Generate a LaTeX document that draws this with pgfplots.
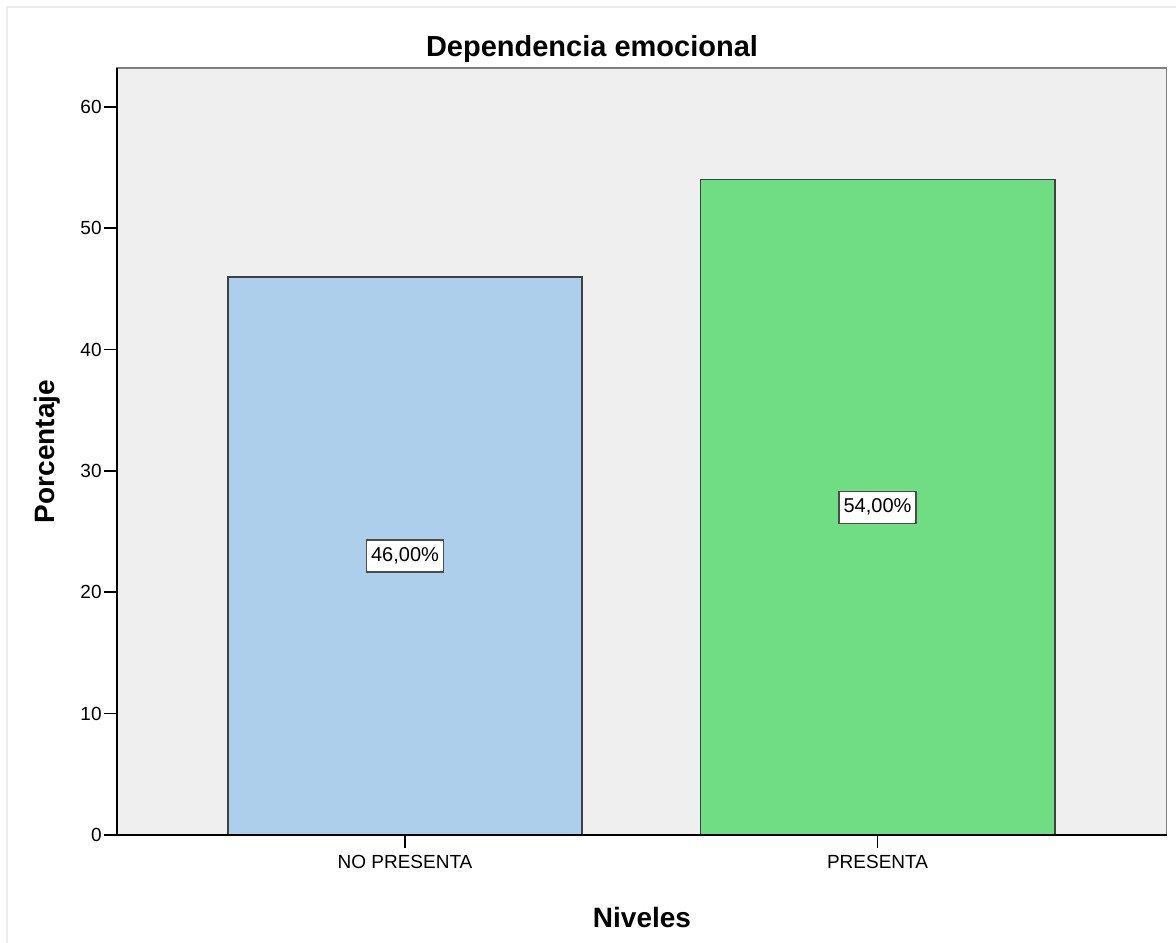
\documentclass[border=0pt]{standalone}
\usepackage{fontspec}
\setmainfont{Liberation Sans}
\usepackage{pgfplots}
\pgfplotsset{compat=1.18}
\definecolor{bgc}{RGB}{239,239,239}
\definecolor{bluebar}{RGB}{174,207,236}
\definecolor{greenbar}{RGB}{112,220,132}
\definecolor{frameg}{RGB}{236,236,236}
\definecolor{axgray}{RGB}{128,128,128}
\begin{document}
\begin{tikzpicture}
\path[use as bounding box] (-58.5pt,-53.5pt) rectangle (529.5pt,417.5pt);
\draw[frameg, line width=1.2pt] (-55pt,-100pt) -- (-55pt,414pt) -- (700pt,414pt);
\begin{axis}[
  name=ax, at={(0,0)}, anchor=south west,
  scale only axis, width=524.75pt, height=383.5pt,
  xmin=-0.6095, xmax=1.6116, ymin=0, ymax=63.2,
  axis background/.style={fill=bgc},
  axis line style={draw=axgray, line width=0.9pt},
  xtick={0,1}, xticklabels={NO PRESENTA, PRESENTA},
  ytick={0,10,20,30,40,50,60},
  tick align=outside, tick pos=left,
  major tick length=6.5pt,
  tick style={black, line width=0.8pt},
  /pgf/number format/assume math mode=true,
  yticklabel style={font=\fontsize{9.5}{11}\selectfont, inner sep=1pt},
  xticklabel style={font=\fontsize{9.5}{11}\selectfont},
  clip=false,
]
\addplot[ybar, bar width=0.75, bar shift=0pt, fill=bluebar, draw=black!75, line width=0.8pt] coordinates {(0,46)};
\addplot[ybar, bar width=0.75, bar shift=0pt, fill=greenbar, draw=black!75, line width=0.8pt] coordinates {(1,54)};
\addplot[draw=none, mark=none, nodes near coords, point meta=explicit symbolic,
  every node near coord/.style={anchor=center, fill=white, draw=black!70, line width=0.8pt,
    font=\fontsize{10}{12}\selectfont, text height=7.2pt, text depth=1.8pt, inner xsep=2.2pt, inner ysep=3.5pt}]
  coordinates {(0,23) [46,00\%] (1,27) [54,00\%]};
\end{axis}
\draw[black, line width=0.9pt] (ax.north west) -- (ax.south west) -- (ax.south east);
\node[anchor=base, font=\fontsize{14.5}{17}\selectfont\bfseries] at (237.5pt,389.1pt) {Dependencia emocional};
\node[anchor=base, font=\fontsize{14}{17}\selectfont\bfseries] at (262.5pt,-46pt) {Niveles};
\node[anchor=base, rotate=90, font=\fontsize{14}{17}\selectfont\bfseries] at (-31pt,191.75pt) {Porcentaje};
\end{tikzpicture}
\end{document}
